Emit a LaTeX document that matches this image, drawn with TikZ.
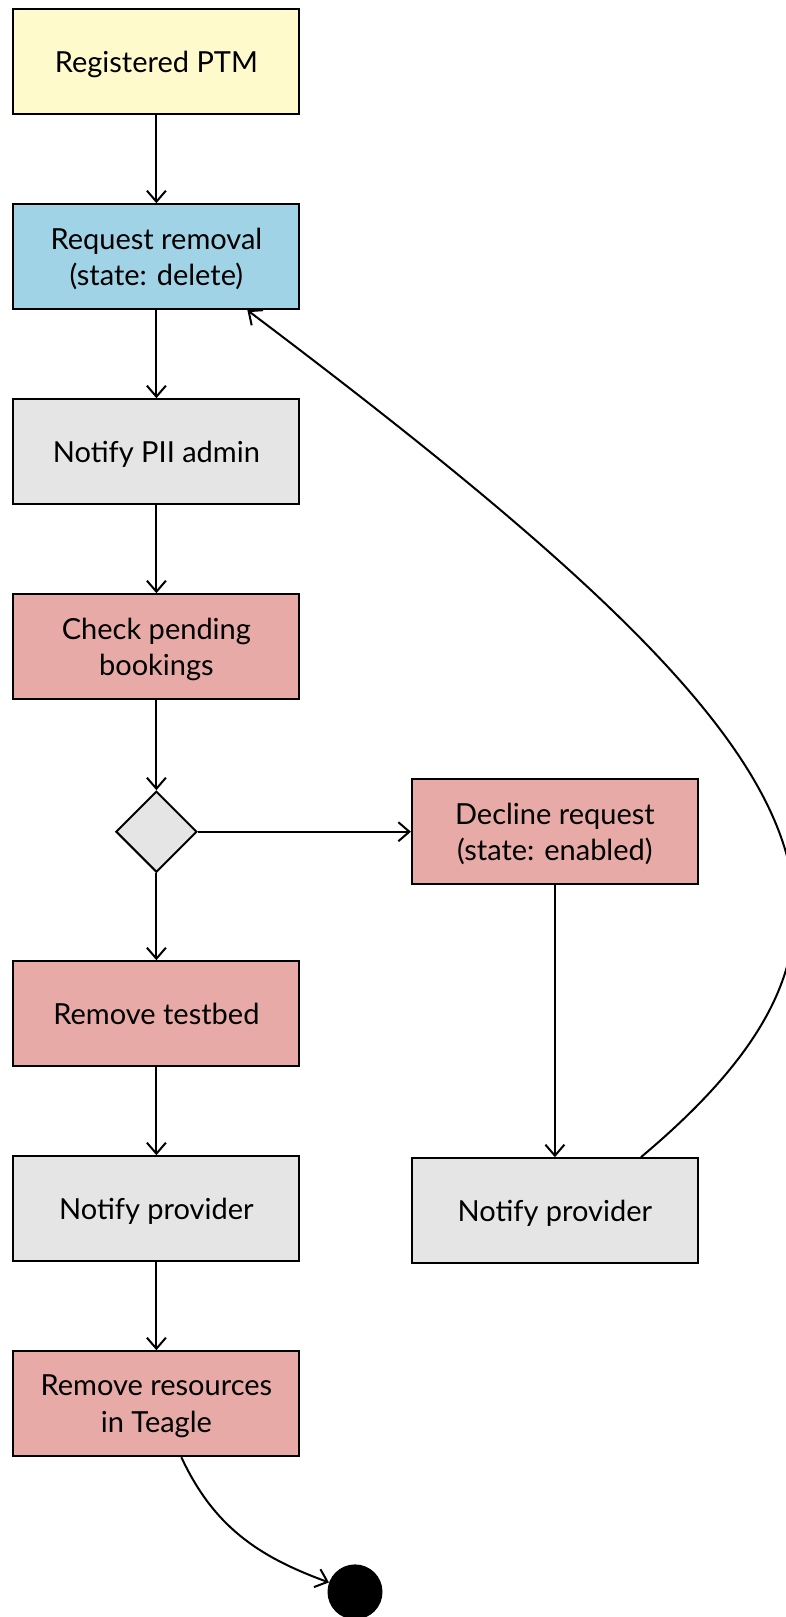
\documentclass[tikz,border=0pt]{standalone}
\usepackage{fontspec}
\setmainfont{Lato}
\usepackage{xcolor}
\usetikzlibrary{positioning,arrows.meta}
\usepgflibrary{shapes.geometric}
\definecolor{ptmyellow}{RGB}{255,250,203}
\definecolor{ptmblue}{RGB}{160,211,229}
\definecolor{ptmgrey}{RGB}{229,229,229}
\definecolor{ptmred}{RGB}{231,170,167}
\tikzset{%
activity/.style={draw,rectangle,line width=2pt,minimum width=286pt,minimum height=105pt,inner sep=0pt,text depth=0pt,align=center,font=\fontsize{29}{36.7}\selectfont},
yellowbox/.style={activity,fill=ptmyellow},
bluebox/.style={activity,fill=ptmblue},
greybox/.style={activity,fill=ptmgrey},
redbox/.style={activity,fill=ptmred},
decision/.style={diamond,draw,line width=2pt,fill=ptmgrey,minimum width=81pt,minimum height=81pt,inner sep=0pt},
finalstate/.style={circle,fill=black,minimum size=55pt,inner sep=0pt},
flow/.style={->,line width=2pt}
}

\begin{document}
\begin{tikzpicture}[x=1pt,y=1pt,node distance=88pt,>={Straight Barb[length=11pt,width=19pt]}]

    \useasboundingbox (0,0) rectangle (785,-1617);

    \node[yellowbox] (registered) at (156.4,-61.7) {Registered PTM};
    \node[bluebox] (request) [below=of registered] {Request removal\\(state: delete)};
    \node[greybox] (notifyadmin) [below=of request] {Notify PII admin};
    \node[redbox] (check) [below=of notifyadmin] {Check pending\\bookings};
    \node[decision] (choice) [below=90pt of check] {};
    \node[redbox] (removetb) [below=87pt of choice] {Remove testbed};
    \node[greybox] (notifyprov) [below=of removetb] {Notify provider};
    \node[redbox] (removeres) [below=of notifyprov] {Remove resources\\in Teagle};
    \node[finalstate] (end) [below=107pt of removeres, xshift=198.6pt] {};

    \node[redbox] (decline) [right=213pt of choice] {Decline request\\(state: enabled)};
    \node[greybox] (notifyprov2) [below=272pt of decline] {Notify provider};

    \path[flow] (registered) edge (request)
                (request) edge (notifyadmin)
                (notifyadmin) edge (check)
                (check) edge (choice)
                (choice) edge (removetb)
                         edge (decline)
                (removetb) edge (notifyprov)
                (notifyprov) edge (removeres)
                (decline) edge (notifyprov2);

    % back to the request when declined
    \draw[flow] ([xshift=86pt]notifyprov2.north) to[out=40,in=-37,out distance=380pt,in distance=710pt] ([xshift=91pt]request.south);
    \draw[flow] (removeres) to[out=-65,in=160] (end);

\end{tikzpicture}
\end{document}
